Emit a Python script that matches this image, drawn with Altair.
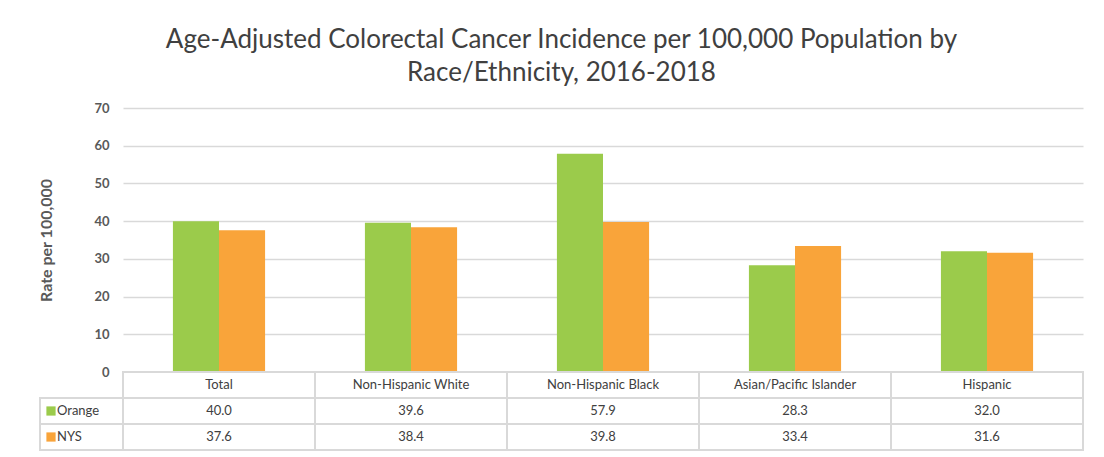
import altair as alt
import pandas as pd

categories = ["Total", "Non-Hispanic White", "Non-Hispanic Black",
              "Asian/Pacific Islander", "Hispanic"]
series = ["Orange", "NYS"]
orange_vals = [40.0, 39.6, 57.9, 28.3, 32.0]
nys_vals = [37.6, 38.4, 39.8, 33.4, 31.6]
colors = ["#9BCB4B", "#F9A43A"]
y_ticks = [0, 10, 20, 30, 40, 50, 60, 70]
rows = ["header", "Orange", "NYS"]
title_lines = ["Age-Adjusted Colorectal Cancer Incidence per 100,000 Population by",
               "Race/Ethnicity, 2016-2018"]

FONT = "Lato"
GRID = "#d9d9d9"
TXT = "#404040"

bar_rows = []
for c, o, n in zip(categories, orange_vals, nys_vals):
    bar_rows.append({"category": c, "series": "Orange", "value": o})
    bar_rows.append({"category": c, "series": "NYS", "value": n})
bar_df = pd.DataFrame(bar_rows)

cell_rows = []
for c, o, n in zip(categories, orange_vals, nys_vals):
    cell_rows.append({"category": c, "row": "header", "label": c})
    cell_rows.append({"category": c, "row": "Orange", "label": f"{o:.1f}"})
    cell_rows.append({"category": c, "row": "NYS", "label": f"{n:.1f}"})
cell_df = pd.DataFrame(cell_rows)

leg_df = pd.DataFrame({"row": series, "series": series})

color_scale = alt.Scale(domain=series, range=colors)

bars = alt.Chart(bar_df).mark_bar().encode(
    x=alt.X("category:N", sort=categories,
            scale=alt.Scale(paddingInner=0.52, paddingOuter=0.26), axis=None),
    xOffset=alt.XOffset("series:N", sort=series,
                        scale=alt.Scale(paddingInner=0, paddingOuter=0)),
    y=alt.Y("value:Q", scale=alt.Scale(domain=[0, 70], nice=False),
            axis=alt.Axis(values=y_ticks, title="Rate per 100,000", grid=True,
                          gridColor=GRID, gridWidth=1.5, domain=False, ticks=False,
                          labelPadding=14, labelFont=FONT, labelFontSize=13,
                          labelColor="#595959", labelFontWeight="bold",
                          titleFont=FONT, titleFontSize=16, titleColor="#595959",
                          titleFontWeight="bold", titlePadding=39)),
    color=alt.Color("series:N", scale=color_scale, legend=None),
).properties(width=960, height=264)

xt = alt.X("category:N", sort=categories,
           scale=alt.Scale(paddingInner=0, paddingOuter=0), axis=None)
yt = alt.Y("row:N", scale=alt.Scale(domain=rows, paddingInner=0, paddingOuter=0),
           axis=None)

cells = alt.Chart(cell_df).mark_rect(fill="white", stroke=GRID, strokeWidth=2).encode(
    x=xt, y=yt)
cell_text = alt.Chart(cell_df).mark_text(font=FONT, fontSize=13, color=TXT).encode(
    x=xt, y=yt, text="label:N")
leg_cells = alt.Chart(leg_df).mark_rect(fill="white", stroke=GRID, strokeWidth=2).encode(
    x=alt.value(-83), x2=alt.value(0), y=yt)
leg_sq = alt.Chart(leg_df).mark_square(size=85, opacity=1).encode(
    x=alt.value(-72), y=yt,
    color=alt.Color("series:N", scale=color_scale, legend=None))
leg_text = alt.Chart(leg_df).mark_text(font=FONT, fontSize=13, color=TXT,
                                       align="left").encode(
    x=alt.value(-66), y=yt, text="row:N")

table = alt.layer(cells, cell_text, leg_cells, leg_sq, leg_text).properties(
    width=960, height=78)

chart = alt.vconcat(bars, table, spacing=0, bounds="flush").properties(
    title=alt.Title(text=title_lines, font=FONT, fontSize=26, color=TXT,
                    fontWeight="normal", anchor="middle", offset=16, lineHeight=33),
    padding={"left": 30, "top": 19, "right": 5, "bottom": 4},
).configure_view(stroke=None)

chart.save("out.html", embed_options={"renderer": "svg", "actions": False})
